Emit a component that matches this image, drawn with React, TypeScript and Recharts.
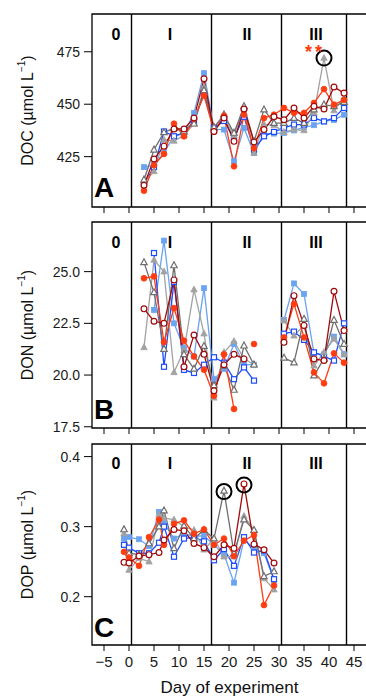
import React from 'react'
import { LineChart, Line, XAxis, YAxis, ReferenceLine, ReferenceDot, ReferenceArea, Label } from 'recharts'

// sampling days
const DAYS_AB = [3, 5, 7, 9, 11, 13, 15, 17, 19, 21, 23, 25, 27, 29, 31, 33, 35, 37, 39, 41, 43]
const DAYS_C = [-1, 0, 2, 4, 6, 7, 9, 11, 13, 15, 17, 19, 21, 23, 25, 27, 29]

const X_TICKS = [-5, 0, 5, 10, 15, 20, 25, 30, 35, 40, 45]
const PERIOD_LINES = [0.5, 16.5, 30.5, 43.5]
const PERIODS = ['0', 'I', 'II', 'III']
const PERIOD_X = [-2.6, 8.2, 23.6, 37.4]

// DOC (µmol L-1)
const DOC_LB = [420, 421, 427, 434.7, 436, 445.8, 464.8, 438, 437.9, 422.8, 438.7, 426.7, 436, 436, 436.3, 437.5, 439, 440, 441.8, 442.5, 445]
const DOC_BO = [412, 420, 437, 434.7, 436.6, 442, 455, 438.7, 442, 434, 444, 428.3, 434.7, 436.8, 438.7, 440.3, 440.3, 443.4, 441.8, 443.4, 448.2]
const DOC_GF = [413, 418, 433, 432.5, 435, 440.7, 458.2, 439, 444, 435, 448, 426.8, 440.3, 440, 436.7, 437.9, 437.5, 445.9, 472, 447, 453]
const DOC_GO = [414, 428.3, 436.6, 438.6, 437, 440.7, 456.6, 439, 445, 436.3, 449, 432.3, 447.4, 441, 441, 443.4, 441, 447.4, 449.8, 449, 451]
const DOC_RF = [408.8, 420.9, 426.3, 440.7, 434.7, 443, 454.1, 437, 444.5, 420.4, 445, 429, 443.4, 445, 448.2, 445.9, 445.9, 450.6, 457.2, 449.8, 452.1]
const DOC_DRO = [411.4, 423.9, 430, 438.2, 438.2, 443.4, 462.1, 437, 443.4, 432.3, 447.7, 432, 437.9, 444, 442.6, 448.2, 443.4, 449, 447.7, 458.2, 455.3]

// DON (µmol L-1)
const DON_LB = [null, 23.15, 26.5, 22.5, 21.3, 20.9, 24.2, 19.8, 20.3, 21.5, 20.5, 20.5, null, null, 22.66, 24.43, 23.92, 21.05, 21.0, 21.86, 21.0]
const DON_BO = [null, 25.9, 20.4, 24.5, 20.25, 20.1, 20.5, 20.86, 20.6, 19.8, 20.37, 19.73, null, null, 22.0, 22.1, 21.7, 21.1, 20.9, 20.7, 22.5]
const DON_GF = [21.34, 25.56, 25.0, 20.13, 21.2, 24.13, 22.0, 18.9, 21.1, 21.63, 20.8, 20.5, null, null, 22.63, 21.9, 22.4, 20.45, 21.1, 21.75, 21.0]
const DON_GO = [25.45, 24.0, 21.26, 25.3, 21.0, 20.3, 21.4, 19.5, 20.45, 19.28, 21.42, 20.5, null, null, 20.83, 20.6, 22.71, 19.97, 20.8, 22.66, 21.5]
const DON_RF = [24.68, 24.77, 21.6, 23.24, 21.66, 20.9, 20.26, 19.0, 21.0, 18.36, null, 21.5, null, null, 21.82, 23.44, 21.82, 20.13, 19.6, 21.05, 20.6]
const DON_DRO = [23.2, 22.6, 22.5, 24.6, 20.4, 21.94, 21.0, 19.24, 20.5, 21.0, 20.78, null, null, null, 21.58, 23.84, 22.4, 20.78, 20.7, 24.05, 22.15]

// DOP (µmol L-1)
const DOP_LB = [0.283, 0.285, 0.282, 0.272, 0.321, 0.305, 0.283, 0.29, 0.286, 0.287, 0.274, 0.26, 0.22, 0.281, 0.269, 0.262, 0.224]
const DOP_BO = [0.274, 0.27, 0.262, 0.262, 0.277, 0.3, 0.257, 0.283, 0.285, 0.279, 0.252, 0.268, 0.244, 0.285, 0.263, 0.266, 0.225]
const DOP_GF = [0.29, 0.238, 0.255, 0.25, 0.317, 0.312, 0.31, 0.3, 0.295, 0.267, 0.283, 0.257, 0.257, 0.315, 0.295, 0.226, 0.21]
const DOP_GO = [0.296, 0.262, 0.26, 0.276, 0.3, 0.323, 0.269, 0.301, 0.283, 0.295, 0.283, 0.351, 0.262, 0.31, 0.295, 0.229, 0.236]
const DOP_RF = [0.264, 0.256, 0.244, 0.285, 0.31, 0.274, 0.304, 0.309, 0.29, 0.296, 0.274, 0.283, 0.258, 0.28, 0.288, 0.188, 0.216]
const DOP_DRO = [0.249, 0.248, 0.258, 0.26, 0.263, 0.281, 0.296, 0.294, 0.276, 0.27, 0.257, 0.274, 0.269, 0.361, 0.275, 0.267, 0.248]

type Shape = 'square' | 'triangle' | 'circle'
interface SeriesDef { key: string; color: string; shape: Shape; open: boolean }

const SERIES: SeriesDef[] = [
  { key: 'lb', color: '#6aa3f2', shape: 'square', open: false },
  { key: 'bo', color: '#1c4cff', shape: 'square', open: true },
  { key: 'gf', color: '#a2a2a2', shape: 'triangle', open: false },
  { key: 'go', color: '#6e6e6e', shape: 'triangle', open: true },
  { key: 'rf', color: '#ff3b10', shape: 'circle', open: false },
  { key: 'dro', color: '#a00a0a', shape: 'circle', open: true },
]

function buildRows(days: number[], cols: Record<string, (number | null)[]>) {
  return days.map((day, i) => {
    const row: any = { day }
    for (const k in cols) row[k] = cols[k][i]
    return row
  })
}

const rowsA = buildRows(DAYS_AB, { lb: DOC_LB, bo: DOC_BO, gf: DOC_GF, go: DOC_GO, rf: DOC_RF, dro: DOC_DRO })
const rowsB = buildRows(DAYS_AB, { lb: DON_LB, bo: DON_BO, gf: DON_GF, go: DON_GO, rf: DON_RF, dro: DON_DRO })
const rowsC = buildRows(DAYS_C, { lb: DOP_LB, bo: DOP_BO, gf: DOP_GF, go: DOP_GO, rf: DOP_RF, dro: DOP_DRO })

const FONT = '"Liberation Sans", Arial, Helvetica, sans-serif'
const X_DOMAIN: [number, number] = [-7.4, 47.6]

function marker(s: SeriesDef) {
  return (p: any) => {
    const { cx, cy, index, value } = p
    if (cx == null || cy == null || value == null) return <g key={index} />
    const fill = s.open ? '#fff' : s.color
    const sw = s.open ? 1.2 : 0.8
    if (s.shape === 'square')
      return <rect key={index} x={cx - 2.5} y={cy - 2.5} width={5} height={5} fill={fill} stroke={s.color} strokeWidth={sw} />
    if (s.shape === 'triangle')
      return <path key={index} d={`M${cx},${cy - 3.6}L${cx + 3.2},${cy + 2.3}L${cx - 3.2},${cy + 2.3}Z`} fill={fill} stroke={s.color} strokeWidth={sw} />
    return <circle key={index} cx={cx} cy={cy} r={2.9} fill={fill} stroke={s.color} strokeWidth={sw} />
  }
}

const textShape = (txt: string, size: number, color = '#000', spacing = 0) => (p: any) => (
  <text x={p.cx} y={p.cy} textAnchor="middle" fontFamily={FONT} fontWeight="bold" fontSize={size} fill={color} letterSpacing={spacing}>
    {txt}
  </text>
)

const ringShape = (p: any) => <circle cx={p.cx} cy={p.cy} r={7.5} fill="none" stroke="#000" strokeWidth={2} />

interface PanelProps {
  rows: any[]
  domain: [number, number]
  yTicks: number[]
  digits: number
  name: string
  letter: string
  letterY: number
  periodY: number
  height: number
  top: number
  marginTop: number
  bottomAxis: boolean
  rings: [number, number][]
  stars?: [number, number]
}

function Panel(p: PanelProps) {
  const yLabel = (props: any) => {
    const vb = props.viewBox
    const cy = vb.y + vb.height / 2
    return (
      <text x={27} y={cy} transform={`rotate(-90 27 ${cy})`} textAnchor="middle" dominantBaseline="central"
        fontFamily={FONT} fontSize={16} fill="#111">
        {p.name} (µmol L<tspan fontSize={10} dy={-6}>−1</tspan><tspan dy={6}>)</tspan>
      </text>
    )
  }
  // title baseline sits near the bottom of the last chart
  const xLabel = () => (
    <text x={229.5} y={p.height - 7} textAnchor="middle" fontFamily={FONT} fontSize={17} fill="#111">Day of experiment</text>
  )
  return (
    <div style={{ position: 'absolute', left: 0, top: p.top }}>
      <LineChart width={372} height={p.height} data={p.rows} margin={{ top: p.marginTop, right: 5, left: 0, bottom: 0 }}>
        <XAxis dataKey="day" type="number" domain={X_DOMAIN} ticks={X_TICKS} allowDataOverflow
          axisLine={false} tickSize={6} tickMargin={5} height={p.bottomAxis ? 55 : 11} stroke="#000"
          tick={{ fontSize: 15, fill: '#1a1a1a', fontFamily: FONT }}
          tickFormatter={(v: number) => (p.bottomAxis ? (v < 0 ? `\u2212${-v}` : `${v}`) : '')}>
          {p.bottomAxis && <Label content={xLabel} />}
        </XAxis>
        <YAxis type="number" domain={p.domain} ticks={p.yTicks} allowDataOverflow width={92}
          axisLine={false} tickSize={8} tickMargin={4} stroke="#000"
          tick={{ fontSize: 14, fill: '#1a1a1a', fontFamily: FONT }}
          tickFormatter={(v: number) => v.toFixed(p.digits)}>
          <Label content={yLabel} />
        </YAxis>
        <ReferenceArea x1={X_DOMAIN[0]} x2={X_DOMAIN[1]} y1={p.domain[0]} y2={p.domain[1]}
          fill="none" stroke="#000" strokeWidth={1.3} ifOverflow="visible" />
        {PERIOD_LINES.map(x => (
          <ReferenceLine key={x} x={x} stroke="#000" strokeWidth={1.4} />
        ))}
        {SERIES.map(s => (
          <Line key={s.key} dataKey={s.key} stroke={s.color} strokeWidth={1.3}
            dot={marker(s)} activeDot={false} isAnimationActive={false} connectNulls={false} />
        ))}
        {PERIODS.map((t, i) => (
          <ReferenceDot key={t} x={PERIOD_X[i]} y={p.periodY} r={0} shape={textShape(t, 16)} />
        ))}
        <ReferenceDot x={-5} y={p.letterY} r={0} shape={textShape(p.letter, 28)} />
        {p.rings.map(([x, y]) => (
          <ReferenceDot key={`${x}-${y}`} x={x} y={y} r={7.5} shape={ringShape} />
        ))}
        {p.stars && <ReferenceDot x={p.stars[0]} y={p.stars[1]} r={0} shape={textShape('**', 18, '#ff3b10', 3)} />}
      </LineChart>
    </div>
  )
}

export default function App() {
  return (
    <div style={{ position: 'absolute', left: 0, top: 0, width: 366, height: 700, overflow: 'hidden', background: '#fff' }}>
      <Panel rows={rowsA} domain={[401, 493]} yTicks={[425, 450, 475]} digits={0} name="DOC" letter="A"
        letterY={406} periodY={480.7} height={218} top={0} marginTop={14} bottomAxis={false}
        rings={[[39, 472]]} stars={[37.2, 472]} />
      <Panel rows={rowsB} domain={[17.44, 27.4]} yTicks={[17.5, 20, 22.5, 25]} digits={1} name="DON" letter="B"
        letterY={17.89} periodY={26.15} height={221} top={218} marginTop={4} bottomAxis={false} rings={[]} />
      <Panel rows={rowsC} domain={[0.131, 0.418]} yTicks={[0.2, 0.3, 0.4]} digits={1} name="DOP" letter="C"
        letterY={0.143} periodY={0.382} height={261} top={439} marginTop={5} bottomAxis rings={[[19, 0.35], [23, 0.3596]]} />
    </div>
  )
}
